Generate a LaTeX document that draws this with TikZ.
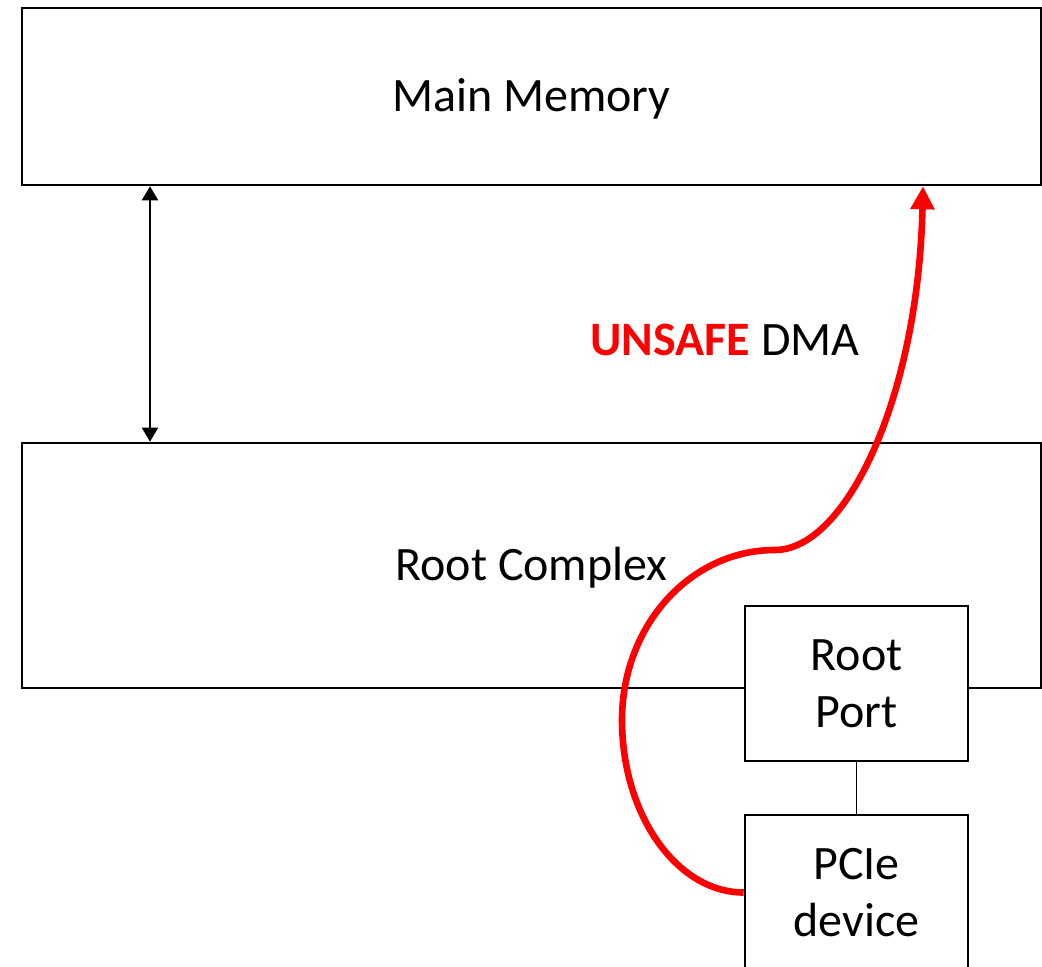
\documentclass[tikz,border=0pt]{standalone}
\usepackage{fontspec}
\setmainfont{Carlito}
\usetikzlibrary{arrows.meta,positioning}

\tikzset{
  bigbox/.style={rectangle, draw, line width=1.3pt, minimum width=509.5pt, text height=19pt},
  portbox/.style={rectangle, draw, fill=white, line width=1.3pt, minimum width=111.5pt, minimum height=77.5pt, align=center},
  busarrow/.style={{Triangle[length=7pt,width=8pt]}-{Triangle[length=7pt,width=8pt]}, line width=1pt},
  dmaarrow/.style={-{Triangle[length=11.5pt,width=11.5pt]}, line width=3.3pt, red}
}

\begin{document}
\begin{tikzpicture}[x=0.5pt,y=-0.5pt,font=\fontsize{24}{28.5}\selectfont]
        \useasboundingbox (0,0) rectangle (1042,967);
        \clip (0,0) rectangle (1042,967);
        \node[bigbox, minimum height=88.5pt] at (531.5,96.5) (mem) {Main Memory};
        \node[bigbox, minimum height=122.5pt] at (531.5,565.5) (rc) {Root Complex};
        \node[portbox] at (856.5,683.5) (port) {Root\\Port};
        \node[portbox] at (856.5,892.5) (pcie) {PCIe\\device};
        \draw[line width=0.5pt] (port) -- (pcie);
        \coordinate (busx) at (150,0);
        \draw[busarrow] (mem.south -| busx) -- (rc.north -| busx);
        \node at (725,340) (dma) {\textcolor{red}{\textbf{UNSAFE}} DMA};
        \coordinate (tgt) at (923,0);
        \draw[dmaarrow] (pcie.west) .. controls (677,892.5) and (622,815) .. (622,720)
            .. controls (622,626) and (690,550) .. (775,550)
            .. controls (845,550) and (918,400) .. (mem.south -| tgt);
\end{tikzpicture}
\end{document}
